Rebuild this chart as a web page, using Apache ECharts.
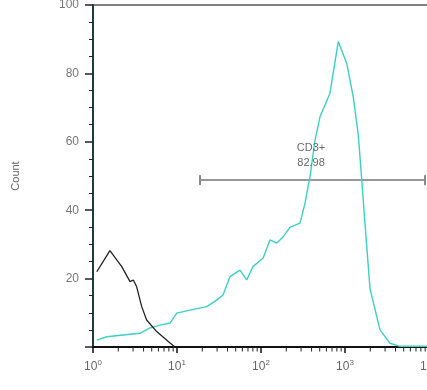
<!DOCTYPE html>
<html>
<head>
<meta charset="utf-8">
<script src="https://cdn.jsdelivr.net/npm/echarts@6/dist/echarts.min.js"></script>
<style>html,body{margin:0;padding:0;background:#fff;}#c{width:427px;height:390px;}</style>
</head>
<body>
<div id="c"></div>
<script>
// Isotype control (black)
const controlX = [1.11, 1.59, 2.2, 2.76, 3.02, 3.31, 3.80, 4.35, 5.73, 8.26, 9.46];
const controlY = [22, 28.2, 23.5, 19.1, 19.6, 17.6, 11.8, 7.9, 4.5, 1.2, 0];
// CD3 stained (cyan)
const cd3X = [1.11, 1.46, 2.28, 3.63, 4.77, 6.28, 8.26, 9.92, 14.3, 22.6, 29.7, 35.3, 42.8, 56.2, 67.6, 80.3, 106, 128, 154, 183, 221, 291, 334, 383, 440, 504, 662, 832, 1047, 1256, 1440, 1581, 1730, 1986, 2612, 3434, 4518, 9466];
const cd3Y = [2, 3, 3.5, 4, 5.6, 6.4, 7, 9.9, 10.8, 11.8, 13.7, 15.2, 20.6, 22.5, 19.6, 23.5, 26, 31.3, 30.4, 32.2, 35, 36.2, 42, 49.8, 60.5, 67.3, 74.2, 89.3, 83, 73, 62, 49, 36, 17, 5, 1.1, 0.2, 0.2];
// Gate
const gateX = [18.8, 8960];
const gateY = 48.8;
const gateName = 'CD3+';
const gateValue = '82.98';
const gateLabelPos = [394, 56];
// Axis ticks
const xMinorTicks = [2, 3, 4, 5, 6, 7, 8, 9, 20, 30, 40, 50, 60, 70, 80, 90, 200, 300, 400, 500, 600, 700, 800, 900, 2000, 3000, 4000, 5000, 6000, 7000, 8000, 9000];
const yTicks = [20, 40, 60, 80, 100];

const chart = echarts.init(document.getElementById('c'));
const zip = (xs, ys) => xs.map((x, i) => [x, ys[i]]);
chart.setOption({
  animation: false,
  backgroundColor: '#fff',
  grid: [
    { left: 93, right: -2, top: 5, bottom: 43, containLabel: false, outerBoundsMode: 'none',
      show: true, borderColor: '#555', borderWidth: 1.5, backgroundColor: 'transparent' },
    // thin strip just under the x axis that holds the log minor tick marks
    { left: 93, right: -2, top: 347, height: 6, containLabel: false, outerBoundsMode: 'none', show: false }
  ],
  xAxis: [
    {
      gridIndex: 0, type: 'log', logBase: 10, min: 1, max: 10000, splitLine: { show: false },
      axisLine: { lineStyle: { color: '#111', width: 2 } },
      axisTick: { show: true, length: 6, lineStyle: { color: '#111', width: 1.5 } },
      axisLabel: {
        margin: 12, color: '#666', showMaxLabel: true, showMinLabel: true,
        formatter: v => '{b|10}{s|' + Math.round(Math.log10(v)) + '}',
        rich: { b: { fontSize: 12, fontFamily: 'Liberation Sans', color: '#666' }, s: { fontSize: 8, fontFamily: 'Liberation Sans', color: '#666', padding: [0, 0, 8, 0] } }
      }
    },
    { gridIndex: 1, type: 'log', logBase: 10, min: 1, max: 10000, show: false }
  ],
  yAxis: [
    {
      gridIndex: 0, type: 'value', min: 0, max: 100, interval: 20,
      name: 'Count', nameLocation: 'middle', nameGap: 72,
      nameTextStyle: { color: '#666', fontSize: 11, fontFamily: 'Liberation Sans' },
      axisLine: { show: true, lineStyle: { color: '#1e3c3c', width: 2 } },
      axisTick: { show: true, length: 8, lineStyle: { color: '#222', width: 1.5 } },
      minorTick: { show: true, splitNumber: 4, length: 4, lineStyle: { color: '#222', width: 1 } },
      splitLine: { show: false },
      axisLabel: { margin: 14, color: '#777', fontSize: 12, fontFamily: 'Liberation Sans', customValues: yTicks }
    },
    { gridIndex: 1, type: 'value', min: 0, max: 1, show: false }
  ],
  series: [
    { type: 'line', data: zip(controlX, controlY), symbol: 'none', lineStyle: { color: '#222', width: 1.3 }, z: 3 },
    { type: 'line', data: zip(cd3X, cd3Y), symbol: 'none', lineStyle: { color: '#3ccfc6', width: 1.4 }, z: 2 },
    { type: 'line', data: gateX.map(x => [x, gateY]), symbol: 'rect', symbolSize: [2, 10], showSymbol: true,
      itemStyle: { color: '#888' }, lineStyle: { color: '#999', width: 2 }, z: 1 },
    { type: 'scatter', data: [gateLabelPos], symbolSize: 0,
      label: { show: true, position: 'inside', formatter: gateName + '\n' + gateValue, color: '#444', fontSize: 11, lineHeight: 15, fontFamily: 'Liberation Sans' }, z: 4 },
    // minor tick marks of the log axis (2..9 per decade), placed through the log scale
    { type: 'custom', xAxisIndex: 1, yAxisIndex: 1, data: xMinorTicks.map(v => [v, 1]), silent: true, z: 10,
      renderItem: (params, api) => {
        const top = api.coord([api.value(0), 1]);
        const bot = api.coord([api.value(0), 0.25]);
        return { type: 'line', shape: { x1: top[0], y1: top[1], x2: bot[0], y2: bot[1] }, style: { stroke: '#222', lineWidth: 1 } };
      } }
  ]
});
</script>
</body>
</html>
